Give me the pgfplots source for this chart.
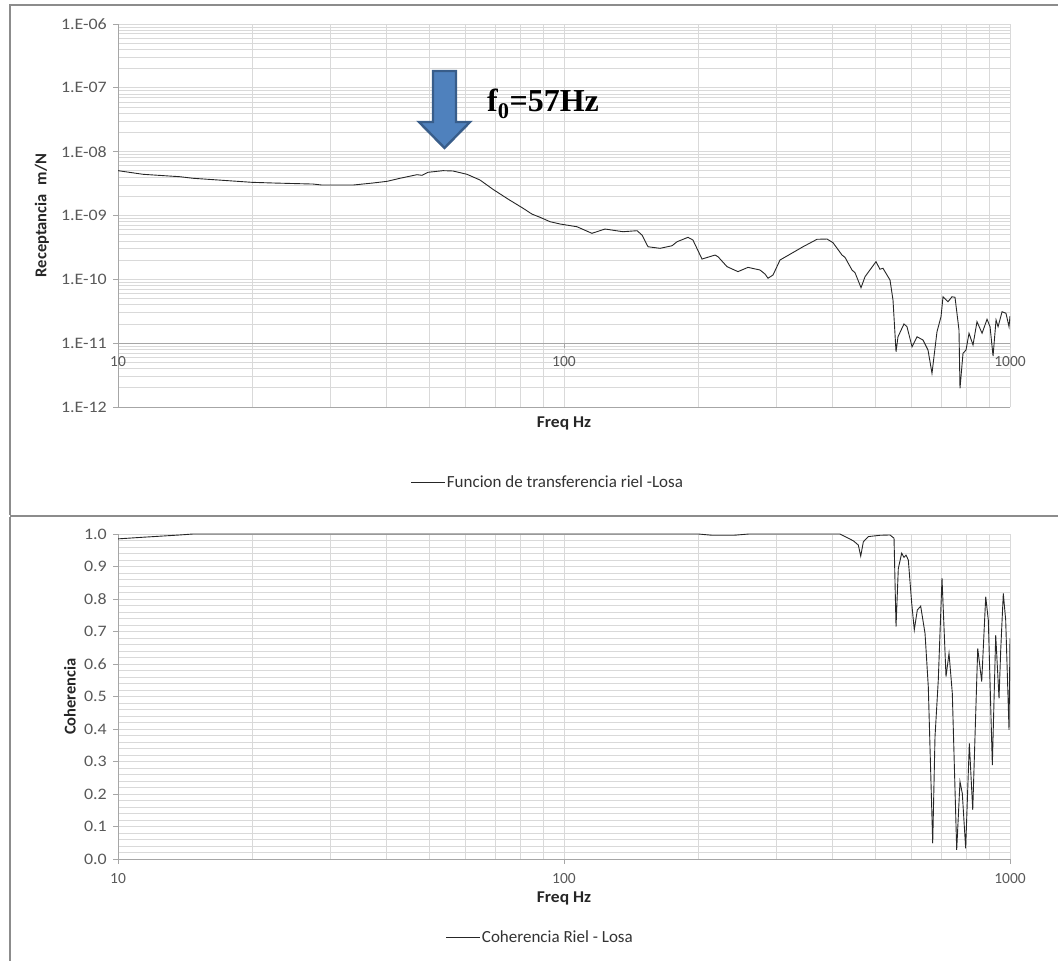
\documentclass[border=0pt]{standalone}
\usepackage{pgfplots}
\pgfplotsset{compat=1.18}
\usepackage{fontspec}
\setmainfont{Carlito}
\newfontfamily\serifbold{Liberation Serif}

\definecolor{gridgray}{RGB}{217,217,217}
\definecolor{axisgray}{RGB}{166,166,166}
\definecolor{ticktext}{RGB}{89,89,89}
\definecolor{framegray}{RGB}{140,140,140}
\definecolor{arrowfill}{RGB}{79,129,189}
\definecolor{arrowedge}{RGB}{56,93,138}

% Receptance of the rail-slab transfer function (Hz, m/N)
\pgfplotstableread{
f v
10 5.04e-9
11.38 4.42e-9
13.77 4.05e-9
14.73 3.83e-9
19.97 3.31e-9
22.26 3.23e-9
27.37 3.11e-9
28.67 3.00e-9
33.64 3.00e-9
37.31 3.23e-9
40.10 3.43e-9
42.89 3.83e-9
46.82 4.36e-9
48.04 4.26e-9
49.55 4.75e-9
53.55 5.04e-9
56.37 4.98e-9
60.60 4.42e-9
64.80 3.60e-9
69.30 2.57e-9
74.90 1.81e-9
80.92 1.30e-9
84.80 1.05e-9
88.38 9.37e-10
93.03 8.0e-10
97.96 7.36e-10
106.9 6.67e-10
115.5 5.26e-10
123.6 6.14e-10
135.6 5.57e-10
145.8 5.78e-10
149.6 4.94e-10
154.3 3.24e-10
164.2 3.06e-10
174.7 3.36e-10
179.2 3.88e-10
189.7 4.55e-10
194.6 4.13e-10
203.9 2.08e-10
218.1 2.40e-10
221.5 2.26e-10
232.0 1.58e-10
245.5 1.32e-10
258.5 1.54e-10
275.1 1.40e-10
282.3 1.21e-10
286.7 1.04e-10
294.2 1.17e-10
305.1 2.01e-10
316.2 2.32e-10
343.5 3.24e-10
369.3 4.24e-10
388.8 4.28e-10
401.0 3.75e-10
420.1 2.40e-10
426.6 2.21e-10
442.3 1.40e-10
449.3 1.27e-10
463.4 7.39e-11
473.1 1.10e-10
500.6 1.89e-10
511.0 1.44e-10
519.0 1.49e-10
538.2 9.76e-11
546.6 4.74e-11
555.2 7.35e-12
560.9 1.26e-11
578.5 2.0e-11
587.6 1.81e-11
603.0 8.8e-12
618.8 1.26e-11
638.2 1.12e-11
654.8 7.82e-12
668.5 3.37e-12
686.0 1.51e-11
700.4 2.60e-11
707.7 5.34e-11
726.1 4.46e-11
741.3 5.34e-11
752.9 5.23e-11
768.6 1.61e-11
772.6 1.96e-12
784.6 6.93e-12
796.9 7.82e-12
809.3 1.43e-11
826.1 9.35e-12
843.3 2.17e-11
865.7 1.43e-11
888.2 2.37e-11
902.1 1.81e-11
916.2 6.29e-12
930.5 2.31e-11
940.2 1.81e-11
959.8 3.11e-11
979.4 2.94e-11
994.9 1.81e-11
1000 2.66e-11
}\receptancia

% Coherence between rail and slab
\pgfplotstableread{
f c
10 0.985
11.38 0.990
13.77 0.997
14.73 1.0
200 1.0
215 0.996
240 0.996
260 1.0
415.7 1.0
445.4 0.979
457.0 0.966
462.7 0.932
469.0 0.976
481.2 0.992
511.0 0.996
538.2 0.997
549.5 0.987
555.2 0.715
561.8 0.894
571.7 0.941
578.5 0.928
584.6 0.935
591.6 0.920
602.0 0.787
610.1 0.705
619.7 0.766
630.6 0.778
644.9 0.694
655.9 0.530
671.0 0.048
679.0 0.376
690.6 0.551
704.0 0.864
718.7 0.561
729.9 0.633
742.5 0.510
759.5 0.028
772.6 0.238
781.7 0.202
795.6 0.033
810.6 0.356
825.0 0.151
846.5 0.648
864.1 0.546
882.2 0.807
894.1 0.735
912.8 0.289
928.9 0.689
944.9 0.494
953.2 0.643
966.0 0.817
978.0 0.735
994.9 0.397
1000 0.679
}\coherencia

\pgfplotsset{
  excelstyle/.style={
    scale only axis, width=892pt,
    xmin=10, xmax=1000,
    xtick={10,100,1000}, xticklabels={10,100,1000},
    minor xtick={20,30,40,50,60,70,80,90,200,300,400,500,600,700,800,900},
    grid=both,
    major grid style={gridgray, line width=0.8pt},
    minor grid style={gridgray, line width=0.8pt},
    axis x line*=bottom, axis y line*=left,
    axis line style={axisgray, line width=0.8pt, -},
    tick style={axisgray, line width=0.8pt},
    tick align=outside, major tick length=5pt, minor tick length=0pt,
    xticklabel style={font=\fontsize{15.5}{18}\selectfont, text=ticktext},
    yticklabel style={font=\fontsize{16}{18}\selectfont, text=ticktext, xscale=1.12, xshift=-2pt},
    xlabel style={font=\fontsize{16.5}{19}\selectfont\bfseries, text=black!85, inner sep=0pt, xscale=1.06},
    ylabel style={font=\fontsize{16.5}{19}\selectfont\bfseries, text=black!85, inner sep=0pt},
    legend style={draw=none, fill=none, font=\fontsize{17}{20}\selectfont,
      text=black!80, inner sep=0pt, nodes={inner sep=1pt}},
    legend image code/.code={\draw[##1] (0pt,0pt) -- (34pt,0pt);},
  }
}

\begin{document}
\begin{tikzpicture}
\path[use as bounding box] (0pt,0pt) rectangle (1058pt,961pt);

% panel frames
\draw[framegray, line width=1.2pt] (10pt,446pt) -- (10pt,956pt) -- (1060pt,956pt);
\draw[framegray, line width=1.2pt] (10pt,-2pt) -- (10pt,444pt);
\draw[framegray, line width=2.5pt] (10pt,444.8pt) -- (1060pt,444.8pt);

% upper panel: receptance
\begin{axis}[xmode=log, ymode=log, excelstyle,
  at={(118pt,554pt)}, anchor=south west, height=383pt,
  ymin=1e-12, ymax=1e-6,
  ytick={1e-12,1e-11,1e-10,1e-9,1e-8,1e-7,1e-6},
  yticklabels={1.E-12,1.E-11,1.E-10,1.E-09,1.E-08,1.E-07,1.E-06},
  minor ytick={2e-12,3e-12,4e-12,5e-12,6e-12,7e-12,8e-12,9e-12,
    2e-11,3e-11,4e-11,5e-11,6e-11,7e-11,8e-11,9e-11,
    2e-10,3e-10,4e-10,5e-10,6e-10,7e-10,8e-10,9e-10,
    2e-9,3e-9,4e-9,5e-9,6e-9,7e-9,8e-9,9e-9,
    2e-8,3e-8,4e-8,5e-8,6e-8,7e-8,8e-8,9e-8,
    2e-7,3e-7,4e-7,5e-7,6e-7,7e-7,8e-7,9e-7},
  xtick style={draw=none},
  xticklabel style={yshift=59pt},
  xlabel={Freq Hz},
  xlabel style={at={(axis description cs:0.5,0)}, anchor=north, yshift=-10pt},
  ylabel={Receptancia\hspace{0.55em}m/N},
  ylabel style={at={(axis description cs:-0.0852,0.5)}, anchor=center},
  legend style={at={(axis description cs:0.4815,-0.196)}, anchor=center},
]
\draw[axisgray, line width=0.9pt] (axis cs:10,1e-11) -- (axis cs:1000,1e-11);
\draw[axisgray, line width=0.8pt] (axis cs:10,1e-11) -- ++(0pt,-5pt);
\draw[axisgray, line width=0.8pt] (axis cs:100,1e-11) -- ++(0pt,-5pt);
\draw[axisgray, line width=0.8pt] (axis cs:1000,1e-11) -- ++(0pt,-5pt);
\addplot[black!85, line width=0.9pt] table[x=f, y=v] {\receptancia};
\addlegendentry{Funcion de transferencia riel -Losa}
\end{axis}

% resonance marker
\filldraw[fill=arrowfill, draw=arrowedge, line width=2.4pt, line join=miter]
  (433pt,890pt) -- (456pt,890pt) -- (456pt,839pt) -- (470pt,839pt)
  -- (444.5pt,813pt) -- (419pt,839pt) -- (433pt,839pt) -- cycle;
\node[anchor=base west, inner sep=0pt] at (487pt,849pt)
  {\fontsize{32}{36}\selectfont\serifbold\bfseries f\textsubscript{0}=57Hz};

% lower panel: coherence
\begin{axis}[xmode=log, excelstyle,
  at={(118pt,102pt)}, anchor=south west, height=325pt,
  ymin=0, ymax=1,
  ytick={0,0.1,0.2,0.3,0.4,0.5,0.6,0.7,0.8,0.9,1.0},
  yticklabels={0.0,0.1,0.2,0.3,0.4,0.5,0.6,0.7,0.8,0.9,1.0},
  minor y tick num=4,
  xticklabel style={yshift=-6pt},
  xlabel={Freq Hz},
  xlabel style={at={(axis description cs:0.5,0)}, anchor=north, yshift=-33pt},
  ylabel={Coherencia},
  ylabel style={at={(axis description cs:-0.0538,0.5)}, anchor=center},
  legend style={at={(axis description cs:0.473,-0.24)}, anchor=center},
]
\addplot[black!85, line width=0.9pt] table[x=f, y=c] {\coherencia};
\addlegendentry{Coherencia Riel - Losa}
\end{axis}
\end{tikzpicture}
\end{document}
